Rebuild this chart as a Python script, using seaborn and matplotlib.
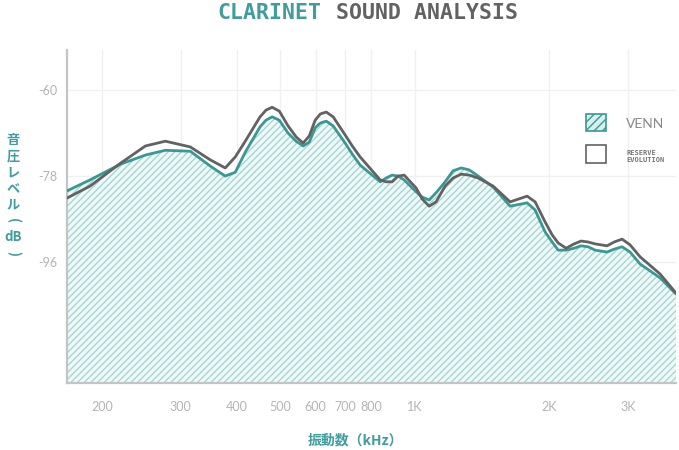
import numpy as np
import pandas as pd
import matplotlib
matplotlib.use("Agg")
import matplotlib.pyplot as plt
import seaborn as sns
from matplotlib.patches import Patch

# frequency samples (Hz)
freq_hz = [167, 188, 220, 250, 277, 315, 349, 377, 397, 418,
           451, 465, 480, 498, 521, 543, 563, 581, 599, 615,
           634, 657, 699, 725, 755, 837, 863, 890, 918, 947,
           1007, 1039, 1077, 1116, 1169, 1218, 1270, 1323, 1386, 1497,
           1634, 1783, 1858, 1956, 2028, 2092, 2179, 2271, 2353, 2441,
           2531, 2691, 2790, 2907, 3029, 3189, 3535, 3838]

# sound pressure level (dB)
venn_db = [-81.1, -78.8, -75.5, -73.6, -72.6, -72.8, -75.9, -78.0, -77.2, -73.0,
           -67.7, -66.3, -65.6, -66.3, -69.0, -70.7, -71.7, -70.9, -67.9, -66.9,
           -66.5, -67.5, -71.1, -73.4, -75.7, -79.2, -78.4, -77.8, -78.0, -78.8,
           -81.3, -82.4, -83.0, -81.5, -79.2, -76.9, -76.3, -76.7, -78.0, -80.3,
           -84.3, -83.6, -85.1, -89.7, -91.8, -93.5, -93.5, -93.1, -92.6, -92.8,
           -93.5, -93.9, -93.3, -92.8, -93.9, -96.4, -99.3, -102.7]
reserve_db = [-82.6, -80.1, -75.3, -71.7, -70.7, -71.9, -74.6, -76.3, -74.0, -70.7,
              -65.6, -64.2, -63.6, -64.4, -67.5, -69.8, -71.1, -69.6, -66.3, -65.0,
              -64.6, -65.6, -69.4, -71.7, -74.0, -78.8, -79.2, -79.2, -78.0, -77.8,
              -80.5, -82.8, -84.3, -83.4, -80.1, -78.4, -77.6, -77.8, -78.4, -80.1,
              -83.4, -82.2, -83.4, -87.6, -90.3, -92.0, -93.1, -92.2, -91.6, -91.8,
              -92.2, -92.6, -91.8, -91.2, -92.4, -94.9, -98.5, -102.5]

series_names = ["VENN", "RESERVE\nEVOLUTION"]

x_ticks = [200, 300, 400, 500, 600, 700, 800, 1000, 2000, 3000]
x_tick_labels = ["200", "300", "400", "500", "600", "700", "800", "1K", "2K", "3K"]
y_ticks = [-60, -78, -96]

# vertical y-axis label pieces (text, rotation)
ylabel_parts = [("音", 0), ("圧", 0), ("レ", 0), ("ベ", 0), ("ル", 0),
                ("(", -90), ("dB", 0), (")", -90)]

TEAL = "#3a9893"
TEAL_TXT = "#3f9d9c"
GRAY = "#626262"
HATCH = "#a3d8d5"
TICK_GRAY = "#b4b4b4"

df = pd.DataFrame({
    "freq": freq_hz * 2,
    "db": venn_db + reserve_db,
    "series": [series_names[0]] * len(freq_hz) + [series_names[1]] * len(freq_hz),
})

sns.set_theme(style="white")
plt.rcParams["font.family"] = ["Noto Sans CJK JP", "DejaVu Sans"]
plt.rcParams["hatch.linewidth"] = 1.0

fig = plt.figure(figsize=(6.79, 4.5), dpi=100)
ax = fig.add_axes([0.0987, 0.149, 0.897, 0.74])

y_bottom = -121.3
ax.fill_between(freq_hz, venn_db, y_bottom, facecolor="#f1f9f8", edgecolor=HATCH,
                hatch="/////", linewidth=0, zorder=1)

sns.lineplot(data=df, x="freq", y="db", hue="series",
             palette={series_names[0]: TEAL, series_names[1]: GRAY},
             linewidth=2, legend=False, ax=ax, zorder=3)
for ln in ax.get_lines():
    ln.set_solid_joinstyle("round")

ax.set_xscale("log")
ax.set_xlim(167, 3838)
ax.set_ylim(y_bottom, -51.6)
ax.set_xticks(x_ticks)
ax.set_xticklabels(x_tick_labels)
ax.xaxis.set_minor_locator(matplotlib.ticker.NullLocator())
ax.set_yticks(y_ticks)
ax.set_yticklabels([str(v) for v in y_ticks])
ax.tick_params(axis="both", length=0, labelsize=9, labelcolor=TICK_GRAY)
ax.tick_params(axis="x", pad=13)
ax.tick_params(axis="y", pad=7)
for lab in ax.get_xticklabels() + ax.get_yticklabels():
    lab.set_family(["Lato", "DejaVu Sans"])

ax.grid(True, color="#f0f0f0", linewidth=1, zorder=0)
ax.set_axisbelow(True)
for side in ["top", "right"]:
    ax.spines[side].set_visible(False)
for side in ["left", "bottom"]:
    ax.spines[side].set_color("#c4c4c4")
    ax.spines[side].set_linewidth(1.6)
ax.set_xlabel("")
ax.set_ylabel("")

# title in two colours
fig.text(321 / 679, 0.971, "CLARINET", ha="right", va="center", color=TEAL_TXT,
         fontsize=15.5, fontweight="bold", family="DejaVu Sans Mono")
fig.text(336 / 679, 0.971, "SOUND ANALYSIS", ha="left", va="center", color=GRAY,
         fontsize=15.5, fontweight="bold", family="DejaVu Sans Mono")

# vertical Japanese y label, stacked character by character
for i, (txt, rot) in enumerate(ylabel_parts):
    fig.text(13 / 679, 1 - (140 + i * 16.2) / 450, txt, ha="center", va="center",
             color=TEAL_TXT, fontsize=9.5, fontweight="bold", rotation=rot)

fig.text(355 / 679, 1 - 440 / 450, "振動数（kHz）", ha="center", va="center",
         color=TEAL_TXT, fontsize=10, fontweight="bold")

handles = [
    Patch(facecolor="#d7efed", edgecolor=TEAL, hatch="////", linewidth=1.2),
    Patch(facecolor="white", edgecolor=GRAY, linewidth=1.2),
]
leg = ax.legend(handles, series_names, loc="upper left", bbox_to_anchor=(0.83, 0.85),
                frameon=False, handlelength=1.3, handleheight=1.4, labelspacing=0.9,
                handletextpad=1.3)
t0, t1 = leg.get_texts()
t0.set_fontsize(10)
t0.set_color("#8a8a8a")
t0.set_family(["Lato", "DejaVu Sans"])
t1.set_fontsize(5)
t1.set_color("#777777")
t1.set_family("DejaVu Sans Mono")
t1.set_fontweight("bold")

fig.savefig("out.png", dpi=100)
